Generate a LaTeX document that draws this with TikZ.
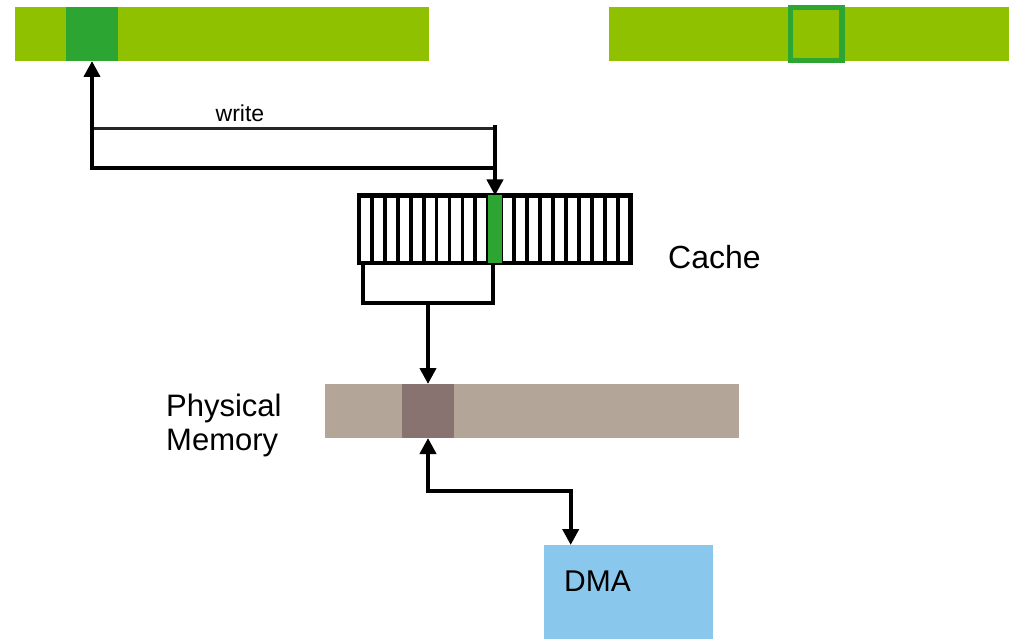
\documentclass[tikz,border=0pt]{standalone}
\usepackage{fontspec}
\setmainfont{Liberation Sans}
\usetikzlibrary{arrows.meta,calc,positioning}

\definecolor{lime}{RGB}{143,193,0}
\definecolor{leaf}{RGB}{44,165,50}
\definecolor{taupe}{RGB}{179,165,152}
\definecolor{mauve}{RGB}{137,115,113}
\definecolor{sky}{RGB}{137,200,236}

\begin{document}
\begin{tikzpicture}[
  x=1pt, y=-1pt,
  bar/.style={fill=#1, draw=none, inner sep=0pt, outer sep=0pt, anchor=north west, minimum height=54pt},
  pagebox/.style={draw=leaf, fill=lime, line width=5.5pt, inner sep=0pt, outer sep=0pt, anchor=north west, minimum width=51.5pt, minimum height=53pt},
  cachebox/.style={draw, line width=4.4pt, inner sep=0pt, outer sep=0pt, anchor=north west, minimum width=271.5pt, minimum height=67.5pt},
  lbl/.style={inner sep=0pt, font=\fontsize{31}{34}\selectfont},
  wire/.style={line width=4pt},
  thinwire/.style={line width=2.8pt, black!85},
  arr/.style={-{Triangle[width=16pt,length=16pt]}, line width=4pt},
  arrboth/.style={{Triangle[width=16pt,length=16pt]}-{Triangle[width=16pt,length=16pt]}, line width=4pt}
]
\useasboundingbox (0,0) rectangle (1010,639);

% virtual address spaces
\node[bar=lime, minimum width=414pt] (vaddrA) at (15,7) {};
\node[bar=leaf, minimum width=52pt] (pageA) at (66,7) {};
\node[bar=lime, minimum width=400pt] (vaddrB) at (609,7) {};
\node[pagebox] (pageB) at (790.5,7.5) {};

% cache
\node[cachebox] (cache) at (359,195.5) {};
\foreach \k in {1,...,20}
  \draw[line width=3.8pt] ($(cache.north west)+(\k*12.93,0)$) -- ($(cache.south west)+(\k*12.93,0)$);
\node[bar=leaf, minimum width=14pt, minimum height=67.5pt] (slot) at (488,195.5) {};
\node[lbl, anchor=base west, font=\fontsize{32}{36}\selectfont] (cachelbl) at (668,268.3) {Cache};

% physical memory
\node[bar=taupe, minimum width=414pt] (mem) at (325,384) {};
\node[bar=mauve, minimum width=52pt] (pageM) at (402,384) {};
\node[lbl, anchor=base west, align=left] (memlbl) at (166,450.7) {Physical\\Memory};

% dma
\node[bar=sky, minimum width=169pt, minimum height=94pt] (dma) at (544,545) {};
\node[lbl, anchor=base west, font=\fontsize{30}{36}\selectfont] (dmalbl) at (564,591.7) {DMA};

% write path
\coordinate (wTop) at (0,128.3);
\coordinate (wBot) at (0,168.3);
\draw[thinwire] (pageA.south |- wTop) -- (slot.north |- wTop);
\node[inner sep=0pt, font=\fontsize{23}{26}\selectfont] (wlbl) at (240,113) {write};
\draw[arr] ($(slot.north |- wTop)+(0,-3)$) -- (slot.north);
\draw[arr] (slot.north |- wBot) -- (pageA.south |- wBot) -- (pageA.south);

% write back to memory
\coordinate (brL) at (363.3,303.3);
\coordinate (brR) at (493.3,303.3);
\draw[wire] (brL |- cache.south) -- (brL) -- (brR) -- (brR |- cache.south);
\draw[arr] (pageM.north |- brL) -- (pageM.north);

% dma access
\coordinate (dmaBend) at (0,490.7);
\coordinate (dmaIn) at (570.7,0);
\draw[arrboth] (pageM.south) -- (pageM.south |- dmaBend) -- (dmaIn |- dmaBend) -- (dmaIn |- dma.north);
\end{tikzpicture}
\end{document}
